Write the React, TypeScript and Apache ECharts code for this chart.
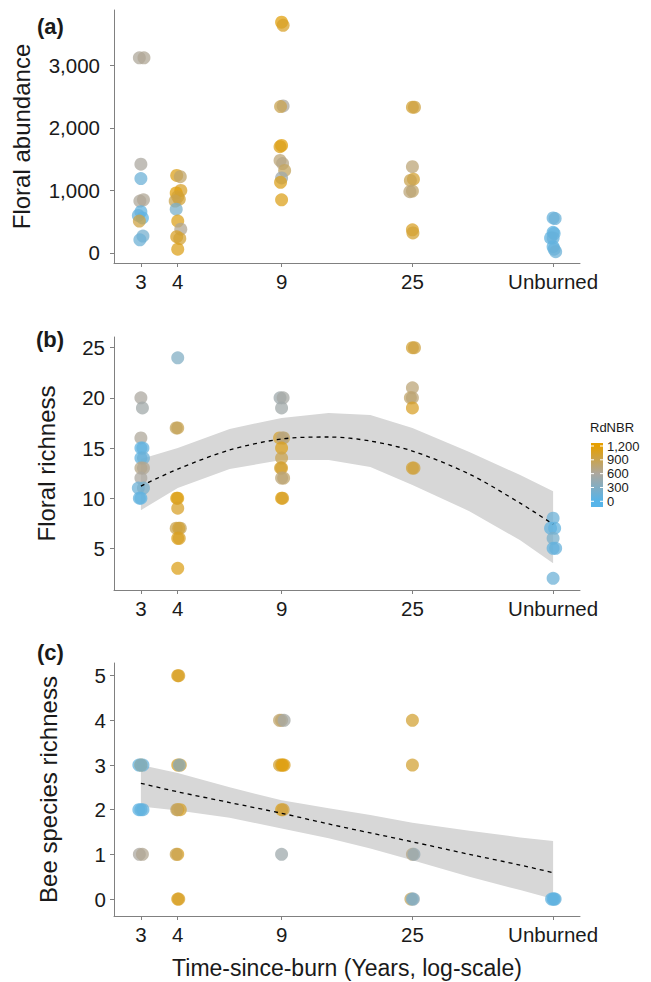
import React, { useEffect, useRef } from "react";
import * as echarts from "echarts";

// x positions (years since burn; "Unburned" placed on the log scale beyond 25)
const yearPositions = [3, 4, 9, 25, 75];
const xTickLabels = ["3", "4", "9", "25", "Unburned"];

// points: [group index, value, RdNBR, jitter (-1..1)]
const floralAbundance: number[][] = [
  [0, 3120, 620, -0.3], [0, 3120, 640, 0.6], [0, 1420, 600, 0], [0, 1190, 150, 0],
  [0, 830, 620, -0.2], [0, 850, 640, 0.5], [0, 660, 80, 0], [0, 600, 120, -0.5],
  [0, 560, 60, 0.3], [0, 510, 950, -0.3], [0, 270, 220, 0.4], [0, 210, 160, -0.2],
  [1, 1240, 1100, -0.2], [1, 1220, 800, 0.5], [1, 1000, 1050, 0.6], [1, 960, 1150, -0.3],
  [1, 900, 1000, 0], [1, 860, 1000, 0.3], [1, 830, 900, -0.5], [1, 700, 250, -0.3],
  [1, 510, 1100, 0], [1, 380, 650, 0.6], [1, 260, 1050, -0.2], [1, 230, 1000, 0.4],
  [1, 60, 1100, 0],
  [2, 3690, 1150, 0], [2, 3640, 1050, 0.3], [2, 2350, 600, 0.3], [2, 2340, 900, -0.2],
  [2, 1720, 1150, 0], [2, 1700, 1100, -0.3], [2, 1480, 750, -0.3], [2, 1430, 700, 0.2],
  [2, 1320, 850, 0.6], [2, 1200, 500, 0], [2, 1130, 1100, -0.2], [2, 850, 1100, 0],
  [3, 2330, 1000, 0], [3, 2330, 950, 0.4], [3, 1380, 750, 0], [3, 1180, 1000, 0.2],
  [3, 1160, 900, -0.4], [3, 990, 800, 0], [3, 980, 750, -0.5], [3, 370, 1050, 0],
  [3, 320, 1000, 0.1],
  [4, 560, 120, 0], [4, 550, 150, 0.4], [4, 330, 50, 0], [4, 310, 100, 0.2],
  [4, 240, 80, -0.5], [4, 240, 120, 0], [4, 100, 80, 0], [4, 60, 100, 0.2],
  [4, 20, 150, 0.5],
];

const floralRichness: number[][] = [
  [0, 20, 600, 0], [0, 19, 520, 0.3], [0, 16, 620, 0], [0, 15, 60, 0],
  [0, 15, 100, 0.4], [0, 14, 80, 0], [0, 14, 150, 0.5], [0, 13, 700, 0],
  [0, 13, 650, 0.5], [0, 12, 600, 0], [0, 11, 150, -0.5], [0, 11, 250, 0.5],
  [0, 10, 40, 0], [0, 10, 100, -0.3],
  [1, 24, 300, 0], [1, 17, 900, 0], [1, 17, 850, -0.3], [1, 10, 1150, 0],
  [1, 10, 1100, -0.2], [1, 9, 1050, 0], [1, 7, 900, -0.3], [1, 7, 850, 0.5],
  [1, 7, 1000, 0.2], [1, 6, 1100, 0], [1, 6, 1050, 0.3], [1, 3, 1100, 0],
  [2, 20, 500, -0.3], [2, 20, 560, 0.3], [2, 19, 520, 0], [2, 16, 1000, -0.4],
  [2, 16, 850, 0.4], [2, 16, 700, 0.2], [2, 15, 1100, 0], [2, 14, 900, 0],
  [2, 13, 1050, 0], [2, 13, 1000, -0.2], [2, 12, 800, 0.4], [2, 12, 750, 0],
  [2, 10, 1150, 0], [2, 10, 1050, 0.2],
  [3, 25, 1000, 0], [3, 25, 950, 0.4], [3, 21, 750, 0], [3, 20, 800, -0.4],
  [3, 20, 750, 0], [3, 19, 1050, 0], [3, 13, 1000, 0], [3, 13, 950, 0.3],
  [4, 8, 150, 0], [4, 7, 100, -0.5], [4, 7, 80, 0.3], [4, 6, 250, 0],
  [4, 5, 80, 0], [4, 5, 120, 0.5], [4, 2, 150, 0],
];

const beeRichness: number[][] = [
  [0, 3, 80, -0.4], [0, 3, 120, 0.4], [0, 3, 850, 0], [0, 3, 200, 0],
  [0, 2, 60, -0.4], [0, 2, 100, 0.4], [0, 2, 80, 0], [0, 1, 600, -0.3],
  [0, 1, 650, 0.3],
  [1, 5, 1100, 0], [1, 5, 1050, 0.2], [1, 3, 1100, 0], [1, 3, 1000, 0.5],
  [1, 3, 350, 0.3], [1, 2, 1150, 0], [1, 2, 1000, 0.5], [1, 2, 800, -0.2],
  [1, 1, 1050, 0], [1, 1, 900, -0.3], [1, 0, 1100, 0], [1, 0, 1050, 0.2],
  [2, 4, 750, 0], [2, 4, 800, -0.4], [2, 4, 550, 0.5], [2, 3, 1100, 0],
  [2, 3, 1000, -0.4], [2, 3, 1050, 0.5], [2, 3, 1150, 0.2], [2, 2, 1100, 0],
  [2, 2, 950, 0.3], [2, 1, 500, 0],
  [3, 4, 1000, 0], [3, 3, 1000, 0], [3, 1, 700, 0], [3, 1, 450, 0.3],
  [3, 0, 850, -0.3], [3, 0, 450, 0.2], [3, 0, 300, 0],
  [4, 0, 100, 0], [4, 0, 80, -0.3], [4, 0, 150, 0.4], [4, 0, 60, 0.2],
];

// model fits
const fitYears = [3, 4, 6, 9, 13, 18, 25, 39, 58, 75];
const richFit = [11.2, 12.9, 14.8, 15.9, 16.1, 15.7, 14.7, 12.4, 9.5, 7.4];
const richUpper = [13.9, 15.0, 16.9, 18.0, 18.5, 18.3, 17.0, 14.6, 12.3, 10.7];
const richLower = [8.8, 11.0, 12.9, 13.8, 13.8, 13.1, 11.3, 8.7, 5.8, 3.5];
const beeFit = [2.59, 2.4, 2.16, 1.92, 1.68, 1.48, 1.28, 1.0, 0.76, 0.59];
const beeUpper = [3.0, 2.82, 2.5, 2.21, 2.03, 1.88, 1.71, 1.53, 1.38, 1.3];
const beeLower = [2.07, 1.98, 1.82, 1.58, 1.36, 1.13, 0.87, 0.5, 0.2, 0.0];

const abundanceTicks = [0, 1000, 2000, 3000];
const floralRichTicks = [5, 10, 15, 20, 25];
const beeTicks = [0, 1, 2, 3, 4, 5];

const rdnbrTicks = [0, 300, 600, 900, 1200];
const rdnbrMax = 1200;
const rdnbrColors = ["#56B4E9", "#ACA79F", "#E69F00"];

const FONT = "'Liberation Sans', Arial, Helvetica, sans-serif";
const AXIS_COLOR = "#808080";
const TEXT_COLOR = "#1a1a1a";

const lx = (y: number) => Math.log(y);
const X_MIN = Math.log(3) - 0.21;
const X_MAX = Math.log(75) + 0.21;

const grids = [
  { left: 114, top: 10, width: 466, height: 253 },
  { left: 114, top: 337, width: 466, height: 253 },
  { left: 114, top: 663, width: 466, height: 253 },
];

function makeXAxis(gi: number, name?: string) {
  const vals = yearPositions.map(lx);
  return {
    type: "value",
    gridIndex: gi,
    min: X_MIN,
    max: X_MAX,
    axisLine: { show: true, onZero: false, lineStyle: { color: AXIS_COLOR, width: 1 } },
    axisTick: { show: true, customValues: vals, length: 4, lineStyle: { color: AXIS_COLOR } },
    axisLabel: {
      customValues: vals,
      color: TEXT_COLOR,
      fontSize: 20.5,
      fontFamily: FONT,
      margin: 8,
      formatter: (v: number) => {
        let best = 0;
        vals.forEach((t, i) => {
          if (Math.abs(t - v) < Math.abs(vals[best] - v)) best = i;
        });
        return xTickLabels[best];
      },
    },
    splitLine: { show: false },
    name: name || "",
    nameLocation: "middle",
    nameGap: 40,
    nameTextStyle: { fontSize: 23, color: TEXT_COLOR, fontFamily: FONT },
  };
}

function makeYAxis(gi: number, min: number, max: number, ticks: number[], name: string, gap: number, margin: number, comma: boolean) {
  return {
    type: "value",
    gridIndex: gi,
    min,
    max,
    axisLine: { show: true, onZero: false, lineStyle: { color: AXIS_COLOR, width: 1 } },
    axisTick: { show: true, customValues: ticks, length: 4, lineStyle: { color: AXIS_COLOR } },
    axisLabel: {
      customValues: ticks,
      color: TEXT_COLOR,
      fontSize: 20.5,
      fontFamily: FONT,
      margin,
      formatter: (v: number) => (comma ? Number(v).toLocaleString("en-US") : String(v)),
    },
    splitLine: { show: false },
    name,
    nameLocation: "middle",
    nameRotate: 90,
    nameGap: gap,
    nameTextStyle: { fontSize: 24, color: TEXT_COLOR, fontFamily: FONT },
  };
}

function scatterSeries(gi: number, pts: number[][]) {
  return {
    type: "scatter",
    xAxisIndex: gi,
    yAxisIndex: gi,
    symbolSize: 13,
    itemStyle: { opacity: 0.74 },
    z: 3,
    data: pts.map((p) => [lx(yearPositions[p[0]]) + p[3] * 0.04, p[1], p[2]]),
  };
}

function fitSeries(gi: number, fit: number[]) {
  return {
    type: "line",
    xAxisIndex: gi,
    yAxisIndex: gi,
    symbol: "none",
    smooth: 0.3,
    silent: true,
    z: 5,
    lineStyle: { color: "#000", width: 1.3, type: [4, 4] },
    data: fitYears.map((y, i) => [lx(y), fit[i]]),
  };
}

function bandSeries(gi: number, lower: number[], upper: number[]) {
  return {
    type: "custom",
    xAxisIndex: gi,
    yAxisIndex: gi,
    silent: true,
    z: 1,
    data: fitYears.map((y, i) => [lx(y), lower[i], upper[i]]),
    renderItem: (params: any, api: any) => {
      if (params.dataIndex !== 0) return null;
      const pts: number[][] = [];
      for (let i = 0; i < fitYears.length; i++) pts.push(api.coord([lx(fitYears[i]), upper[i]]));
      for (let i = fitYears.length - 1; i >= 0; i--) pts.push(api.coord([lx(fitYears[i]), lower[i]]));
      return { type: "polygon", shape: { points: pts }, style: { fill: "#d7d7d7" } };
    },
  };
}

export default function App() {
  const ref = useRef<HTMLDivElement>(null);
  useEffect(() => {
    if (!ref.current) return;
    const chart = echarts.init(ref.current, null, { renderer: "svg" });

    // legend geometry
    const barX = 591, barW = 12, barTop = 443, barBottom = 507;
    const yMax = 446, yZero = 501.3;
    const yOf = (v: number) => yZero - (v / rdnbrMax) * (yZero - yMax);
    const stop = (y: number) => (y - barTop) / (barBottom - barTop);

    const legendGraphics: any[] = [
      {
        type: "text", left: 590, top: 421,
        style: { text: "RdNBR", font: `13px ${FONT}`, fill: TEXT_COLOR },
      },
      {
        type: "rect", shape: { x: barX, y: barTop, width: barW, height: barBottom - barTop },
        style: {
          fill: new echarts.graphic.LinearGradient(0, 0, 0, 1, [
            { offset: 0, color: rdnbrColors[2] },
            { offset: stop(yMax), color: rdnbrColors[2] },
            { offset: stop(yOf(600)), color: rdnbrColors[1] },
            { offset: stop(yZero), color: rdnbrColors[0] },
            { offset: 1, color: rdnbrColors[0] },
          ]),
        },
      },
    ];
    rdnbrTicks.forEach((v) => {
      const y = yOf(v);
      legendGraphics.push(
        { type: "line", shape: { x1: barX, y1: y, x2: barX + 3, y2: y }, style: { stroke: "#fff", lineWidth: 1 } },
        { type: "line", shape: { x1: barX + barW - 3, y1: y, x2: barX + barW, y2: y }, style: { stroke: "#fff", lineWidth: 1 } },
        {
          type: "text", x: 607, y,
          style: { text: v.toLocaleString("en-US"), font: `13px ${FONT}`, fill: TEXT_COLOR, verticalAlign: "middle" },
        }
      );
    });

    const option: any = {
      animation: false,
      backgroundColor: "#fff",
      textStyle: { fontFamily: FONT },
      grid: grids.map((g) => ({ ...g, containLabel: false })),
      xAxis: [makeXAxis(0), makeXAxis(1), makeXAxis(2, "Time-since-burn (Years, log-scale)")],
      yAxis: [
        makeYAxis(0, -160, 3884, abundanceTicks, "Floral abundance", 81, 14, true),
        makeYAxis(1, 0.84, 26.07, floralRichTicks, "Floral richness", 56, 9, false),
        makeYAxis(2, -0.38, 5.284, beeTicks, "Bee species richness", 54, 8, false),
      ],
      visualMap: {
        type: "continuous",
        show: false,
        min: 0,
        max: rdnbrMax,
        dimension: 2,
        seriesIndex: [0, 1, 2],
        inRange: { color: rdnbrColors },
      },
      series: [
        scatterSeries(0, floralAbundance),
        scatterSeries(1, floralRichness),
        scatterSeries(2, beeRichness),
        bandSeries(1, richLower, richUpper),
        bandSeries(2, beeLower, beeUpper),
        fitSeries(1, richFit),
        fitSeries(2, beeFit),
      ],
      graphic: [
        { type: "text", left: 37, top: 15, style: { text: "(a)", font: `bold 22px ${FONT}`, fill: TEXT_COLOR } },
        { type: "text", left: 36, top: 328, style: { text: "(b)", font: `bold 22px ${FONT}`, fill: TEXT_COLOR } },
        { type: "text", left: 37, top: 641, style: { text: "(c)", font: `bold 22px ${FONT}`, fill: TEXT_COLOR } },
        ...legendGraphics,
      ],
    };
    chart.setOption(option);
    return () => chart.dispose();
  }, []);

  return (
    <div
      ref={ref}
      style={{ position: "absolute", left: 0, top: 0, width: 651, height: 982, background: "#fff" }}
    />
  );
}
